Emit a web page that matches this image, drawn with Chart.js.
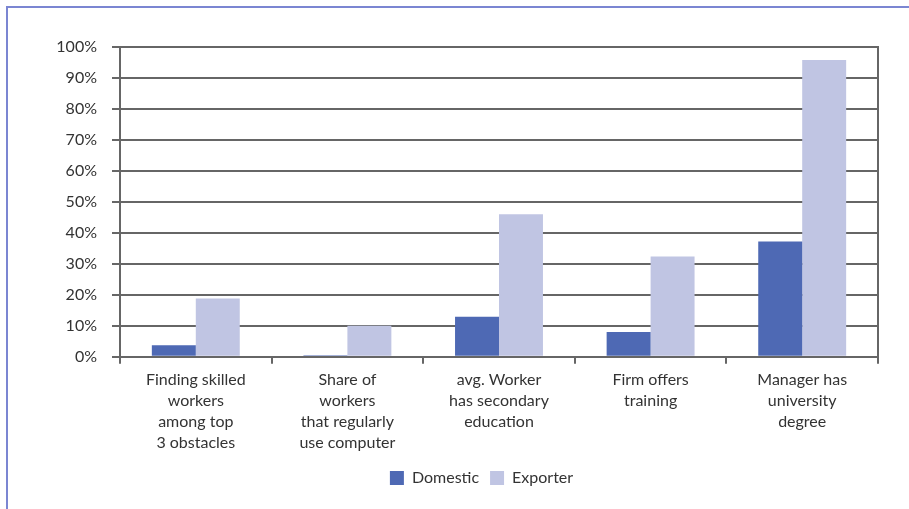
<!DOCTYPE html>
<html lang="en">
<head>
    <meta charset="UTF-8">
    <title>Skills chart</title>
    <style>
        body {
            margin: 0;
            padding: 0;
            background: #ffffff;
        }
        .frame {
            position: absolute;
            left: 6px;
            top: 6px;
            width: 903px;
            height: 503px;
            border-left: 2px solid #7b86d2;
            border-top: 2px solid #7b86d2;
            box-sizing: border-box;
        }
        .wrap {
            position: absolute;
            left: 0;
            top: 0;
            width: 909px;
            height: 509px;
        }
    </style>
</head>
<body>
<div class="frame"></div>
<div class="wrap"><canvas id="chart"></canvas></div>

<script src="https://cdn.jsdelivr.net/npm/chart.js"></script>
<script>
    const categories = [
        ['Finding skilled', 'workers', 'among top', '3 obstacles'],
        ['Share of', 'workers', 'that regularly', 'use computer'],
        ['avg. Worker', 'has secondary', 'education'],
        ['Firm offers', 'training'],
        ['Manager has', 'university', 'degree']
    ];
    const domestic = [3.7, 0.5, 12.9, 8.0, 37.2];
    const exporter = [18.8, 10.0, 46.0, 32.4, 95.8];
    const yMin = 0, yMax = 100, yStep = 10;

    const lineColor = '#666666';
    const textColor = '#333333';
    const fontFamily = "'Lato', 'Liberation Sans', sans-serif";

    const ctx = document.getElementById('chart').getContext('2d');
    new Chart(ctx, {
        type: 'bar',
        data: {
            labels: categories,
            datasets: [{
                label: 'Domestic',
                data: domestic,
                backgroundColor: '#4e69b4',
                categoryPercentage: 0.58,
                barPercentage: 1.0
            }, {
                label: 'Exporter',
                data: exporter,
                backgroundColor: '#c0c5e3',
                categoryPercentage: 0.58,
                barPercentage: 1.0
            }]
        },
        options: {
            responsive: true,
            maintainAspectRatio: false,
            animation: false,
            layout: {
                padding: { left: 54, right: 0, top: 47, bottom: 13 }
            },
            plugins: {
                tooltip: { enabled: false },
                legend: {
                    position: 'bottom',
                    labels: {
                        boxWidth: 14,
                        boxHeight: 14,
                        padding: 11,
                        color: textColor,
                        font: { family: fontFamily, size: 16 }
                    }
                }
            },
            scales: {
                x: {
                    grid: {
                        display: true,
                        offset: true,
                        drawOnChartArea: false,
                        tickLength: 7,
                        color: lineColor,
                        lineWidth: 2
                    },
                    border: { color: lineColor, width: 2 },
                    ticks: {
                        color: textColor,
                        padding: 6,
                        maxRotation: 0,
                        autoSkip: false,
                        font: { family: fontFamily, size: 16, lineHeight: 1.3 }
                    }
                },
                y: {
                    min: yMin,
                    max: yMax,
                    afterFit: (s) => { s.width = 66; },
                    grid: {
                        color: lineColor,
                        lineWidth: 2,
                        tickLength: 8
                    },
                    border: { color: lineColor, width: 2 },
                    ticks: {
                        stepSize: yStep,
                        color: textColor,
                        padding: 15,
                        font: { family: fontFamily, size: 16 },
                        callback: (v) => v + '%'
                    }
                },
                y2: {
                    position: 'right',
                    min: yMin,
                    max: yMax,
                    afterFit: (s) => { s.width = 31; },
                    grid: { drawOnChartArea: false, drawTicks: false },
                    border: { color: lineColor, width: 2 },
                    ticks: { display: false }
                }
            }
        }
    });
</script>
</body>
</html>
